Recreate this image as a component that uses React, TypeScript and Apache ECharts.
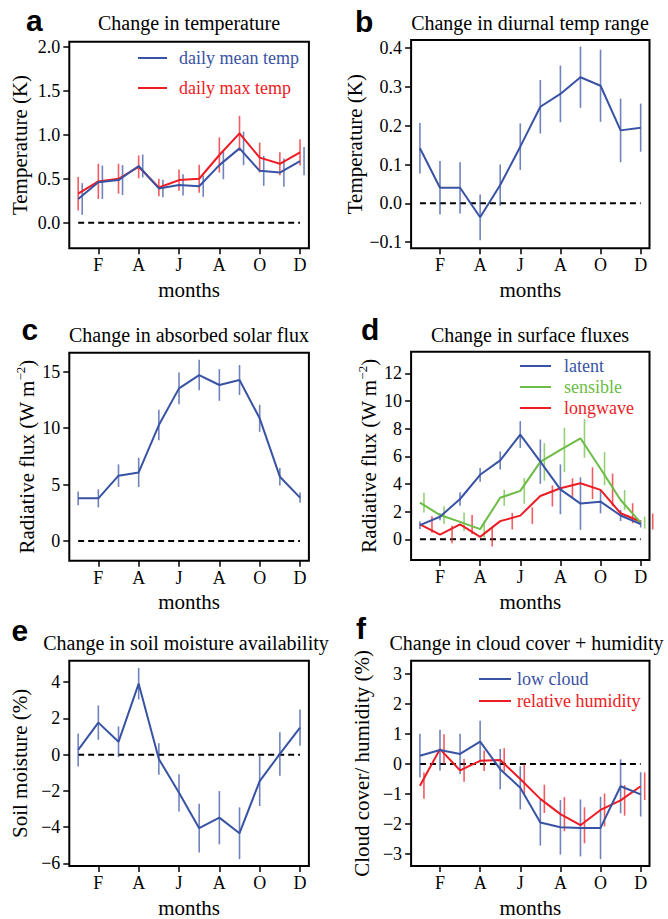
import React, { useEffect, useRef } from 'react';
import * as echarts from 'echarts';

// ---------------- data ----------------
const months = [1, 2, 3, 4, 5, 6, 7, 8, 9, 10, 11, 12];
const monthTickValues = [2, 4, 6, 8, 10, 12];
const monthTickLabels = ['F', 'A', 'J', 'A', 'O', 'D'];

// (a) temperature change (K)
const dailyMeanTemp = [0.27, 0.46, 0.485, 0.645, 0.39, 0.43, 0.415, 0.655, 0.845, 0.59, 0.57, 0.70];
const dailyMeanTempErr = [0.18, 0.19, 0.17, 0.13, 0.10, 0.12, 0.12, 0.16, 0.19, 0.17, 0.16, 0.16];
const dailyMaxTemp = [0.33, 0.47, 0.50, 0.635, 0.40, 0.485, 0.50, 0.77, 1.015, 0.74, 0.67, 0.80];
const dailyMaxTempErr = [0.19, 0.20, 0.17, 0.13, 0.10, 0.12, 0.16, 0.20, 0.20, 0.17, 0.13, 0.15];
const tempTicks = [0, 0.5, 1, 1.5, 2];

// (b) diurnal temperature range (K)
const diurnalRange = [0.142, 0.040, 0.040, -0.036, 0.047, 0.146, 0.249, 0.282, 0.325, 0.303, 0.188, 0.195];
const diurnalRangeErr = [0.065, 0.069, 0.066, 0.059, 0.053, 0.06, 0.069, 0.073, 0.079, 0.093, 0.082, 0.062];
const dtrTicks = [-0.1, 0, 0.1, 0.2, 0.3, 0.4];

// (c) absorbed solar flux (W m-2)
const solarFlux = [3.78, 3.78, 5.79, 6.08, 10.27, 13.52, 14.7, 13.82, 14.26, 10.87, 5.7, 3.85];
const solarFluxErr = [0.6, 0.8, 1.0, 1.3, 1.35, 1.4, 1.35, 1.4, 1.33, 1.2, 0.77, 0.45];
const solarTicks = [0, 5, 10, 15];

// (d) surface fluxes (W m-2)
const latentFlux = [1.02, 1.63, 2.91, 4.66, 5.7, 7.57, 5.61, 3.61, 2.58, 2.72, 1.72, 1.1];
const latentFluxErr = [0.27, 0.25, 0.48, 0.5, 0.65, 0.97, 1.6, 1.8, 1.9, 0.85, 0.4, 0.25];
const sensibleFlux = [2.65, 1.75, 1.26, 0.73, 3.0, 3.5, 5.59, 6.46, 7.3, 5.1, 2.84, 1.2];
const sensibleFluxErr = [0.72, 0.64, 0.67, 0.6, 0.58, 0.93, 1.36, 1.6, 1.4, 1.2, 0.72, 0.43];
const longwaveFlux = [1.07, 0.34, 1.07, 0.17, 1.31, 1.71, 3.13, 3.69, 4.05, 3.57, 1.88, 1.28];
const longwaveFluxErr = [0.6, 0.63, 0.69, 0.7, 0.6, 0.6, 0.76, 0.72, 1.15, 1.18, 0.72, 0.58];
const surfTicks = [0, 2, 4, 6, 8, 10, 12];

// (e) soil moisture availability (%)
const soilMoisture = [0.26, 1.77, 0.71, 3.92, -0.24, -2.11, -4.06, -3.48, -4.34, -1.46, 0.04, 1.49];
const soilMoistureErr = [0.91, 0.95, 0.85, 0.87, 0.87, 1.03, 1.35, 1.47, 1.43, 1.38, 1.2, 1.0];
const soilTicks = [-6, -4, -2, 0, 2, 4];

// (f) cloud cover + humidity (%)
const lowCloud = [0.28, 0.47, 0.34, 0.75, -0.17, -0.79, -1.95, -2.11, -2.13, -2.13, -0.74, -1.01];
const lowCloudErr = [0.73, 0.68, 0.67, 0.7, 0.67, 0.72, 0.77, 0.91, 0.95, 1.04, 0.9, 0.74];
const relHumidity = [-0.72, 0.5, -0.21, 0.11, 0.14, -0.5, -1.16, -1.67, -2.04, -1.53, -1.21, -0.74];
const relHumidityErr = [0.44, 0.5, 0.38, 0.34, 0.39, 0.5, 0.47, 0.57, 0.6, 0.55, 0.51, 0.46];
const cloudTicks = [-3, -2, -1, 0, 1, 2, 3];

// ---------------- styles ----------------
const SERIF = "'Liberation Serif', 'Times New Roman', serif";
const SANS = "'Liberation Sans', Arial, sans-serif";
const BLUE = '#3953a4';
const RED = '#ed1c24';
const GREEN = '#6cbd45';
const INK = '#000';

type SeriesDef = { name: string; values: number[]; errors: number[]; color: string; offset: number };
type PanelDef = {
  letter: string;
  title: string;
  yName: string;
  yRich?: boolean;
  yNameGap: number;
  ticks: number[];
  dec: number;
  yMin: number;
  yMax: number;
  grid: { left: number; top: number; width: number; height: number };
  series: SeriesDef[];
  legend?: { left: number; top: number; itemWidth: number; gap: number; pad: number };
  letterPos: { left: number; top: number };
  titleX: number;
  titleTop: number;
};

const panels: PanelDef[] = [
  {
    letter: 'a', title: 'Change in temperature', yName: 'Temperature (K)', yNameGap: 39,
    ticks: tempTicks, dec: 1, yMin: -0.29, yMax: 2.057,
    grid: { left: 69.3, top: 41.7, width: 239.6, height: 206.6 },
    series: [
      { name: 'daily max temp', values: dailyMaxTemp, errors: dailyMaxTempErr, color: RED, offset: 0 },
      { name: 'daily mean temp', values: dailyMeanTemp, errors: dailyMeanTempErr, color: BLUE, offset: 0.2 },
    ],
    legend: { left: 138, top: 49, itemWidth: 29, gap: 12, pad: 7 },
    letterPos: { left: 26, top: 5 }, titleX: 189, titleTop: 13,
  },
  {
    letter: 'b', title: 'Change in diurnal temp range', yName: 'Temperature (K)', yNameGap: 39,
    ticks: dtrTicks, dec: 1, yMin: -0.116, yMax: 0.421,
    grid: { left: 411.1, top: 40, width: 238.4, height: 208.3 },
    series: [{ name: 'dtr', values: diurnalRange, errors: diurnalRangeErr, color: BLUE, offset: 0 }],
    letterPos: { left: 355, top: 6 }, titleX: 530, titleTop: 13,
  },
  {
    letter: 'c', title: 'Change in absorbed solar flux', yName: '{n|Radiative flux (W m}{s|\u22122}{n|)}', yRich: true, yNameGap: 29,
    ticks: solarTicks, dec: 0, yMin: -1.74, yMax: 16.68,
    grid: { left: 69.3, top: 352.7, width: 239.6, height: 208 },
    series: [{ name: 'solar', values: solarFlux, errors: solarFluxErr, color: BLUE, offset: 0 }],
    letterPos: { left: 21.5, top: 314 }, titleX: 189, titleTop: 325,
  },
  {
    letter: 'd', title: 'Change in surface fluxes', yName: '{n|Radiative flux (W m}{s|\u22122}{n|)}', yRich: true, yNameGap: 29,
    ticks: surfTicks, dec: 0, yMin: -1.5, yMax: 13.56,
    grid: { left: 411.1, top: 351.7, width: 238.4, height: 208.3 },
    series: [
      { name: 'longwave', values: longwaveFlux, errors: longwaveFluxErr, color: RED, offset: 0.6 },
      { name: 'sensible', values: sensibleFlux, errors: sensibleFluxErr, color: GREEN, offset: 0.2 },
      { name: 'latent', values: latentFlux, errors: latentFluxErr, color: BLUE, offset: 0 },
    ],
    legend: { left: 520, top: 357, itemWidth: 31, gap: 3, pad: 8 },
    letterPos: { left: 361, top: 314 }, titleX: 530, titleTop: 325,
  },
  {
    letter: 'e', title: 'Change in soil moisture availability', yName: 'Soil moisture (%)', yNameGap: 39,
    ticks: soilTicks, dec: 0, yMin: -6.15, yMax: 5.19,
    grid: { left: 69.3, top: 660.7, width: 239.6, height: 207.6 },
    series: [{ name: 'soil', values: soilMoisture, errors: soilMoistureErr, color: BLUE, offset: 0 }],
    letterPos: { left: 11.5, top: 615 }, titleX: 186, titleTop: 633,
  },
  {
    letter: 'f', title: 'Change in cloud cover + humidity', yName: 'Cloud cover/ humidity (%)', yNameGap: 39,
    ticks: cloudTicks, dec: 0, yMin: -3.4, yMax: 3.45,
    grid: { left: 411.1, top: 660.7, width: 238.4, height: 207.6 },
    series: [
      { name: 'relative humidity', values: relHumidity, errors: relHumidityErr, color: RED, offset: 0.2 },
      { name: 'low cloud', values: lowCloud, errors: lowCloudErr, color: BLUE, offset: 0 },
    ],
    legend: { left: 479, top: 670, itemWidth: 32, gap: 4, pad: 1 },
    letterPos: { left: 356, top: 613 }, titleX: 526.5, titleTop: 633,
  },
];

const fmt = (dec: number) => (v: number) => v.toFixed(dec).replace('-', '\u2212');

const errRender = (color: string, offset: number) => (_params: any, api: any) => {
  const x = api.value(0) + offset;
  const p1 = api.coord([x, api.value(1)]);
  const p2 = api.coord([x, api.value(2)]);
  return {
    type: 'line',
    shape: { x1: p1[0], y1: p1[1], x2: p2[0], y2: p2[1] },
    style: { stroke: color, lineWidth: 1.6, opacity: 0.72 },
  };
};

function buildOption() {
  const grid: any[] = [];
  const xAxis: any[] = [];
  const yAxis: any[] = [];
  const series: any[] = [];
  const title: any[] = [];
  const legend: any[] = [];

  panels.forEach((p, i) => {
    grid.push({ ...p.grid, show: true, borderColor: INK, borderWidth: 2, backgroundColor: 'transparent', containLabel: false });
    xAxis.push({
      type: 'value', gridIndex: i, min: 0.56, max: 12.44, position: 'bottom',
      axisLine: { show: false, onZero: false }, splitLine: { show: false },
      axisTick: { show: true, customValues: monthTickValues, length: 6, lineStyle: { color: INK, width: 1.5 } },
      axisLabel: {
        customValues: monthTickValues,
        formatter: (v: number) => monthTickLabels[monthTickValues.indexOf(v)] ?? '',
        margin: 8, fontFamily: SERIF, fontSize: 18, color: INK,
      },
      name: 'months', nameLocation: 'middle', nameGap: 31,
      nameTextStyle: { fontFamily: SERIF, fontSize: 21, color: INK },
    });
    const nameTextStyle: any = { fontFamily: SERIF, fontSize: 21, color: INK };
    if (p.yRich) {
      nameTextStyle.rich = {
        n: { fontFamily: SERIF, fontSize: 21, color: INK, lineHeight: 26 },
        s: { fontFamily: SERIF, fontSize: 13, color: INK, lineHeight: 13, verticalAlign: 'top' },
      };
    }
    yAxis.push({
      type: 'value', gridIndex: i, min: p.yMin, max: p.yMax, position: 'left',
      axisLine: { show: false, onZero: false }, splitLine: { show: false },
      axisTick: { show: true, customValues: p.ticks, length: 6, lineStyle: { color: INK, width: 1.5 } },
      axisLabel: { customValues: p.ticks, formatter: fmt(p.dec), margin: 9, fontFamily: SERIF, fontSize: 18, color: INK },
      name: p.yName, nameLocation: 'middle', nameGap: p.yNameGap,
      nameTextStyle,
    });

    // zero reference line
    series.push({
      type: 'line', name: 'zero-' + p.letter, xAxisIndex: i, yAxisIndex: i,
      data: [[months[0], 0], [months[months.length - 1], 0]],
      symbol: 'none', silent: true, z: 1,
      lineStyle: { color: INK, width: 2, type: [6, 4] },
    });

    p.series.forEach((s) => {
      series.push({
        type: 'custom', name: s.name + ' error', xAxisIndex: i, yAxisIndex: i,
        data: months.map((m, j) => [m, s.values[j] - s.errors[j], s.values[j] + s.errors[j]]),
        renderItem: errRender(s.color, s.offset), silent: true, z: 2, clip: false,
        encode: { x: 0, y: [1, 2] },
      });
    });
    p.series.forEach((s) => {
      series.push({
        type: 'line', name: s.name, xAxisIndex: i, yAxisIndex: i,
        data: months.map((m, j) => [m, s.values[j]]),
        symbol: 'none', showSymbol: false, z: 3,
        lineStyle: { color: s.color, width: 2 }, itemStyle: { color: s.color },
      });
    });

    title.push({
      text: p.title, left: p.titleX, top: p.titleTop, textAlign: 'center', padding: 0,
      textStyle: { fontFamily: SERIF, fontSize: 20, fontWeight: 'normal', color: INK },
    });
    title.push({
      text: p.letter, left: p.letterPos.left, top: p.letterPos.top, padding: 0,
      textStyle: { fontFamily: SANS, fontSize: 30, fontWeight: 'bold', color: INK },
    });

    if (p.legend) {
      const ordered = [...p.series].reverse();
      legend.push({
        orient: 'vertical', left: p.legend.left, top: p.legend.top, padding: 0,
        icon: 'rect', itemWidth: p.legend.itemWidth, itemHeight: 2, itemGap: p.legend.gap,
        selectedMode: false,
        textStyle: { fontFamily: SERIF, fontSize: 18, lineHeight: 18, padding: [0, 0, 0, p.legend.pad] },
        data: ordered.map((s) => ({ name: s.name, icon: 'rect', itemStyle: { color: s.color }, textStyle: { color: s.color } })),
      });
    }
  });

  return { animation: false, backgroundColor: '#fff', grid, xAxis, yAxis, series, title, legend };
}

export default function App() {
  const ref = useRef<HTMLDivElement>(null);
  useEffect(() => {
    if (!ref.current) return;
    const chart = echarts.init(ref.current, null, { renderer: 'svg' });
    chart.setOption(buildOption() as any);
    return () => chart.dispose();
  }, []);
  return <div ref={ref} style={{ position: 'absolute', left: 0, top: 0, width: 668, height: 919 }} />;
}
